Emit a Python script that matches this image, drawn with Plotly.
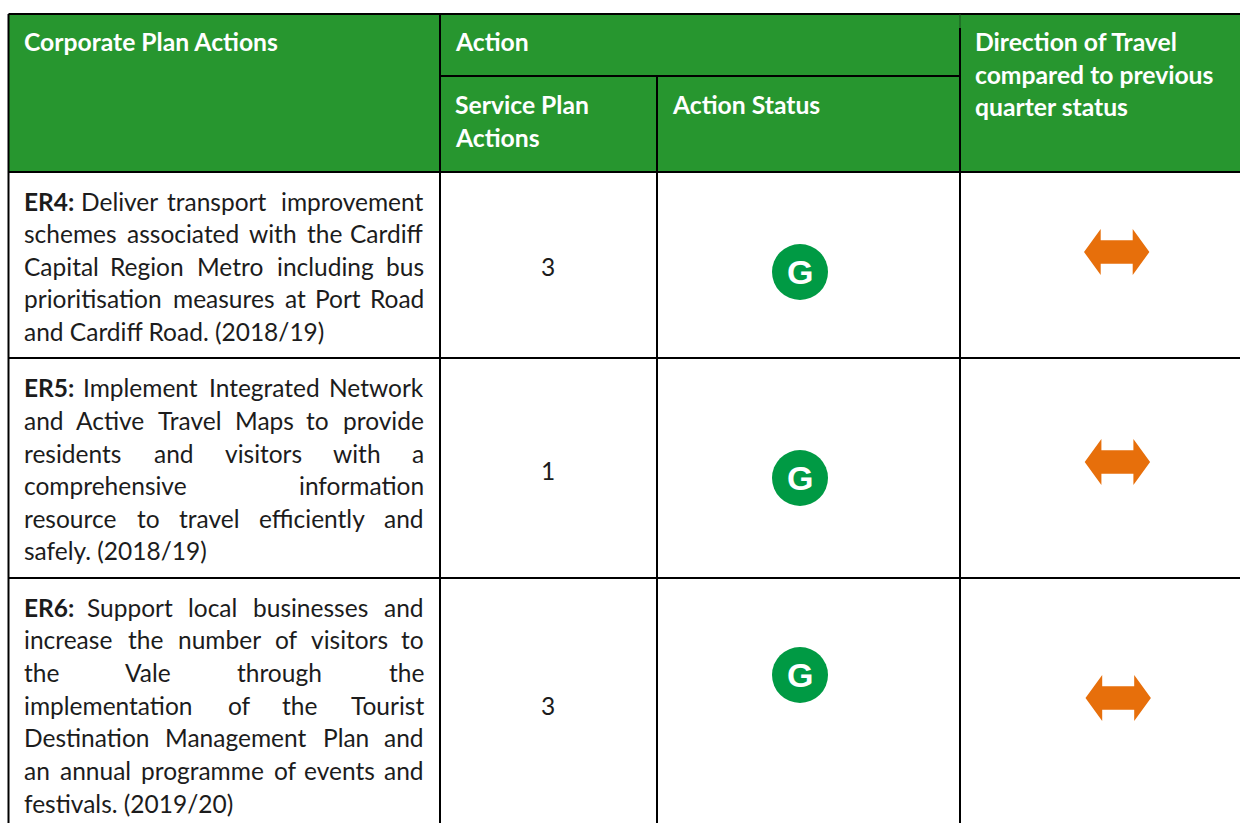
import plotly.graph_objects as go

# ---- content ----
HEADER_CELLS = [
    ("Corporate Plan Actions", 24, 43),
    ("Action", 455, 43),
    ("Service Plan", 455, 106),
    ("Actions", 455, 139),
    ("Action Status", 672, 106),
    ("Direction of Travel", 975, 43),
    ("compared to previous", 975, 76),
    ("quarter status", 975, 108),
]
ER4_LINES = [
    "ER4: Deliver transport improvement",
    "schemes associated with the Cardiff",
    "Capital Region Metro including bus",
    "prioritisation measures at Port Road",
    "and Cardiff Road. (2018/19)",
]
ER4_Y = [202, 234, 267, 299, 332]
ER5_LINES = [
    "ER5: Implement Integrated Network",
    "and Active Travel Maps to provide",
    "residents and visitors with a",
    "comprehensive information",
    "resource to travel efficiently and",
    "safely. (2018/19)",
]
ER5_Y = [388, 421, 454, 486, 519, 551]
ER6_LINES = [
    "ER6: Support local businesses and",
    "increase the number of visitors to",
    "the Vale through the",
    "implementation of the Tourist",
    "Destination Management Plan and",
    "an annual programme of events and",
    "festivals. (2019/20)",
]
ER6_Y = [608, 640, 673, 706, 738, 771, 804]
SERVICE_PLAN_ACTIONS = ["3", "1", "3"]
SERVICE_Y = [267, 471, 706]
STATUS = ["G", "G", "G"]
STATUS_X = [800, 800, 800]
STATUS_Y = [272, 478, 675]
ARROW_X = [1116.7, 1117.4, 1118.2]
ARROW_Y = [252, 462, 698]

# ---- styles ----
GREEN = "#27962F"
INK = "#1C1C1C"
FONT = "Lato"
BODY_SIZE = 24.5
HEADER_SIZE = 24.7
TEXT_LEFT, TEXT_RIGHT = 24, 424

# Approximate advance widths of the reference's typeface, used only to space justified lines.
ADV = dict(a=479, b=525, c=423, d=525, e=498, f=305, g=471, h=525, i=229, j=239, k=455, l=229,
           m=799, n=525, o=527, p=525, q=525, r=349, s=391, t=335, u=525, v=452, w=715, x=433,
           y=453, z=395, A=579, C=533, D=615, E=488, I=252, M=855, N=646, P=517, R=543, S=459,
           T=487, V=567)
ADV.update({str(d): 507 for d in range(10)})
ADV.update({":": 267, ".": 252, "/": 386, "(": 303, ")": 303})
EM = 26.5
def word_width(word):
    return sum(ADV.get(c, 500) for c in word) / 1000 * EM

shapes = [
    dict(type="rect", x0=8.5, x1=1240, y0=14, y1=172, fillcolor=GREEN, line_width=0, layer="below"),
]
rules = [
    (8.5, 14, 1240, 14), (440, 76, 960, 76), (8.5, 172, 1240, 172),
    (8.5, 358, 1240, 358), (8.5, 578, 1240, 578),
    (8.5, 14, 8.5, 823), (440, 14, 440, 823), (657, 76, 657, 823), (960, 28, 960, 823),
]
for x0, y0, x1, y1 in rules:
    shapes.append(dict(type="line", x0=x0, y0=y0, x1=x1, y1=y1,
                       line=dict(color="#000000", width=2), layer="above"))
shapes.append(dict(type="line", x0=960, y0=14, x1=960, y1=28,
                   line=dict(color="#1a4d1e", width=1), layer="above"))

# double-headed arrows
for cx, cy in zip(ARROW_X, ARROW_Y):
    hw, nx, by, ty = 32.7, 16, 11.7, 23
    pts = [(-hw, 0), (-nx, -ty), (-nx, -by), (nx, -by), (nx, -ty), (hw, 0),
           (nx, ty), (nx, by), (-nx, by), (-nx, ty)]
    path = "M" + " L".join(f"{cx+a:.1f},{cy+b:.1f}" for a, b in pts) + " Z"
    shapes.append(dict(type="path", path=path, fillcolor="#E76F0B", line_width=0))

annotations = []
def put(text, x, y, color=INK, size=BODY_SIZE, anchor="left", family=FONT):
    annotations.append(dict(text=text, x=x, y=y, xref="x", yref="y", showarrow=False,
                            xanchor=anchor, yanchor="middle", borderpad=0, borderwidth=0,
                            font=dict(family=family, size=size, color=color)))

for t, x, y in HEADER_CELLS:
    put(f"<b>{t}</b>", x - 0.5, y - 1.5, color="#FFFFFF", size=HEADER_SIZE)

def put_paragraph(lines, ys):
    for k, (line, y) in enumerate(zip(lines, ys)):
        y -= 1
        if k == len(lines) - 1:           # last line of a paragraph is not justified
            put(line, TEXT_LEFT, y)
            continue
        words = line.split()
        widths = [word_width(w) for w in words]
        gap = (TEXT_RIGHT - TEXT_LEFT - sum(widths)) / (len(words) - 1)
        x = TEXT_LEFT
        for i, (w, wd) in enumerate(zip(words, widths)):
            label = f"<b>{w}</b>" if k == 0 and i == 0 else w
            if i == 0:
                put(label, TEXT_LEFT, y)
            elif i == len(words) - 1:
                put(label, TEXT_RIGHT, y, anchor="right")
            else:
                put(label, x + wd / 2, y, anchor="center")
            x += wd + gap

put_paragraph(ER4_LINES, ER4_Y)
put_paragraph(ER5_LINES, ER5_Y)
put_paragraph(ER6_LINES, ER6_Y)

for v, y in zip(SERVICE_PLAN_ACTIONS, SERVICE_Y):
    put(v, 548, y - 1, anchor="center")

fig = go.Figure()
fig.add_trace(go.Scatter(
    x=STATUS_X, y=STATUS_Y, mode="markers",
    marker=dict(size=56, color="#009A44", line_width=0),
    hoverinfo="skip", showlegend=False,
))
for s, x, y in zip(STATUS, STATUS_X, STATUS_Y):
    put(f"<b>{s}</b>", x, y, color="#FFFFFF", size=34, anchor="center", family="Liberation Sans")
fig.update_layout(
    width=1240, height=823, margin=dict(l=0, r=0, t=0, b=0),
    paper_bgcolor="#FFFFFF", plot_bgcolor="#FFFFFF", showlegend=False,
    xaxis=dict(range=[0, 1240], visible=False, fixedrange=True),
    yaxis=dict(range=[823, 0], visible=False, fixedrange=True),
    shapes=shapes, annotations=annotations,
)
fig.write_html("out.html", config=dict(displayModeBar=False),
               post_script="document.body.style.margin='0';document.body.style.overflow='hidden';")
